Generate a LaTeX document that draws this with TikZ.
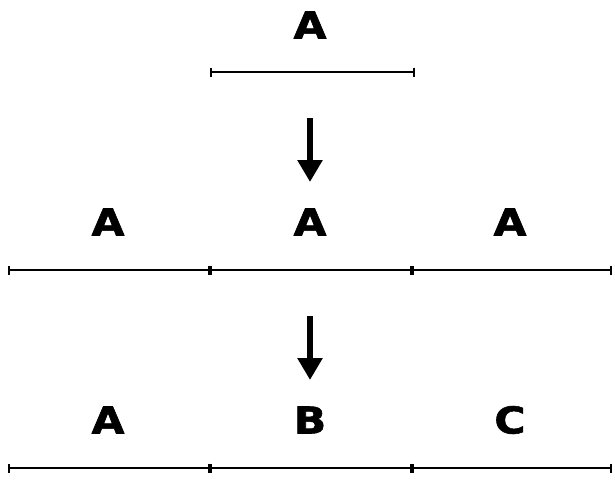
\documentclass[tikz,border=0pt]{standalone}
\usepackage{fontspec}
\setmainfont{DejaVu Sans}
\newfontfamily\heavyfont{DejaVu Sans Bold}[FakeBold=1.5]
\usepackage{tikz}
\usetikzlibrary{arrows.meta, positioning}

\begin{document}
\begin{tikzpicture}[
      x=1pt, y=-1pt,
      lbl/.style={font=\fontsize{37}{40}\selectfont\heavyfont, inner sep=0pt},
      seg/.style={{Bar[width=9pt]}-{Bar[width=9pt]}, line width=1.8pt},
      down/.style={-{Triangle[width=24pt,length=22pt]}, line width=6pt},
    ]
    \useasboundingbox (0,0) rectangle (615,482);

    % original sequence
    \node[lbl] (a0) at (310,25) {\scalebox{1.15}[1]{A}};
    \coordinate (t0) at (210,72);
    \coordinate (t1) at (415,72);
    \draw[seg] (t0) -- (t1);

    % duplicated
    \coordinate (d1s) at (310,118);
    \coordinate (d1e) at (310,182);
    \draw[down] (d1s) -- (d1e);
    \node[lbl] (a1) at (108,222) {\scalebox{1.15}[1]{A}};
    \node[lbl] (a2) at (310,222) {\scalebox{1.15}[1]{A}};
    \node[lbl] (a3) at (510,222) {\scalebox{1.15}[1]{A}};
    \coordinate (m0) at (8,270);
    \coordinate (m1) at (210,270);
    \coordinate (m2) at (412,270);
    \coordinate (m3) at (612,270);
    \draw[seg] (m0) -- (m1);
    \draw[seg] (m1) -- (m2);
    \draw[seg] (m2) -- (m3);

    % diverged
    \coordinate (d2s) at (310,316);
    \coordinate (d2e) at (310,380);
    \draw[down] (d2s) -- (d2e);
    \node[lbl] (b1) at (108,420) {\scalebox{1.15}[1]{A}};
    \node[lbl] (b2) at (310,420) {\scalebox{1.15}[1]{B}};
    \node[lbl] (b3) at (510,420) {\scalebox{1.15}[1]{C}};
    \coordinate (n0) at (8,468);
    \coordinate (n1) at (210,468);
    \coordinate (n2) at (412,468);
    \coordinate (n3) at (612,468);
    \draw[seg] (n0) -- (n1);
    \draw[seg] (n1) -- (n2);
    \draw[seg] (n2) -- (n3);
  \end{tikzpicture}
\end{document}
